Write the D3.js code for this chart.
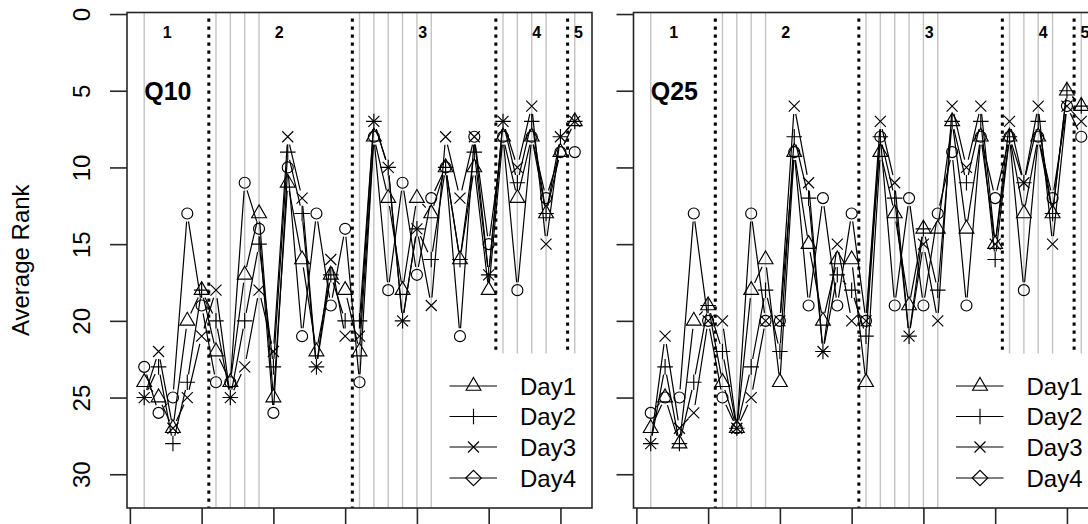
<!DOCTYPE html>
<html>
<head>
<meta charset="utf-8">
<script src="https://cdn.jsdelivr.net/npm/d3@7"></script>
<style>
  html, body { margin: 0; padding: 0; background: #ffffff; }
  svg { display: block; font-family: "Liberation Sans", Arial, Helvetica, sans-serif; }
</style>
</head>
<body>
<svg id="chart" width="1088" height="524"></svg>
<script>
// Question positions along the x axis
const positions = d3.range(1, 32);
const seriesNames = ["Day1", "Day2", "Day3", "Day4"];

// Average rank per question, Q10 panel
const q10Day1 = [24, 25, 27, 20, 18, 22, 24, 17, 13, 25, 11, 16, 22, 17, 18, 22, 8, 12, 18, 12, 13, 10, 16, 10, 18, 8, 12, 8, 13, 9, 7];
const q10Day2 = [25, 23, 28, 24, 18, 20, 25, 20, 15, 23, 9, 13, 23, 17, 20, 20, 7, 10, 20, 14, 16, 10, 16, 9, 17, 7, 11, 7, 13, 8, 7];
const q10Day3 = [25, 22, 27, 25, 21, 18, 25, 23, 18, 22, 8, 12, 23, 16, 21, 21, 7, 10, 20, 14, 19, 8, 12, 8, 17, 7, 10, 6, 15, 8, 7];
const q10Day4 = [23, 26, 25, 13, 19, 24, 24, 11, 14, 26, 10, 21, 13, 19, 14, 24, 8, 18, 11, 17, 12, 10, 21, 8, 15, 8, 18, 8, 12, 9, 9];

// Average rank per question, Q25 panel
const q25Day1 = [27, 25, 28, 20, 19, 24, 27, 18, 16, 24, 9, 15, 20, 16, 16, 24, 9, 13, 19, 14, 14, 7, 14, 8, 15, 8, 13, 8, 13, 5, 6];
const q25Day2 = [28, 23, 28, 24, 19, 22, 27, 23, 18, 22, 8, 12, 22, 17, 18, 21, 8, 12, 21, 14, 18, 7, 11, 7, 16, 8, 11, 7, 13, 5, 6];
const q25Day3 = [28, 21, 27, 26, 20, 20, 27, 25, 20, 20, 6, 11, 22, 15, 20, 20, 7, 11, 21, 15, 20, 6, 10, 6, 15, 7, 11, 6, 15, 6, 7];
const q25Day4 = [26, 25, 25, 13, 20, 25, 27, 13, 20, 20, 9, 19, 12, 19, 13, 20, 8, 19, 12, 19, 13, 9, 19, 8, 12, 8, 18, 8, 12, 6, 8];

// Section layout
const sectionLabels = ["1", "2", "3", "4", "5"];
const sectionLabelX = [2.6, 10.4, 20.4, 28.35, 31.25];
const sectionBreaks = [5.5, 15.5, 25.5, 30.5];
const guidePositions = [1, 6, 7, 8, 9, 16, 17, 18, 19, 20, 21, 26, 27, 28, 29, 31];

// Axis ticks
const yTicks = [0, 5, 10, 15, 20, 25, 30];
const xTicks = [0, 5, 10, 15, 20, 25, 30];

const panels = [
  { title: "Q10", left: 127, series: [q10Day1, q10Day2, q10Day3, q10Day4], yLabels: true },
  { title: "Q25", left: 633.5, series: [q25Day1, q25Day2, q25Day3, q25Day4], yLabels: false }
];

const W = 1088, H = 524;
const plotTop = 12.5, plotBottom = 508, plotWidth = 465;
const R = 5.5;            // symbol radius
const GAP = 8;            // gap left around symbols on the connecting lines
const ink = "#000000";
const frame = "#262626";

const svg = d3.select("#chart");
svg.append("rect").attr("width", W).attr("height", H).attr("fill", "#ffffff");

const y = d3.scaleLinear().domain([-0.1, 32.2]).range([plotTop, plotBottom]);

// Plot symbols: triangle, plus, cross, circle (and diamond for the key)
function drawSymbol(g, kind, cx, cy) {
  const s = g.append("g").attr("transform", `translate(${cx},${cy})`)
    .attr("fill", "none").attr("stroke", ink).attr("stroke-width", 1.15);
  if (kind === 0) {
    const r = 1.5551 * R, xc = 1.3468 * R, yc = 0.7776 * R;
    s.append("path").attr("d", `M0,${-r}L${xc},${yc}L${-xc},${yc}Z`);
  } else if (kind === 1) {
    const a = Math.SQRT2 * R;
    s.append("path").attr("d", `M${-a},0H${a}M0,${-a}V${a}`);
  } else if (kind === 2) {
    s.append("path").attr("d", `M${-R},${-R}L${R},${R}M${-R},${R}L${R},${-R}`);
  } else if (kind === 3) {
    s.append("circle").attr("r", R);
  } else {
    const a = Math.SQRT2 * R;
    s.append("path").attr("d", `M${-a},0L0,${-a}L${a},0L0,${a}Z`);
  }
}

panels.forEach(panel => {
  const x = d3.scaleLinear().domain([-0.2, 32.2]).range([panel.left, panel.left + plotWidth]);
  const g = svg.append("g");

  // light guide lines at selected questions
  g.selectAll("line.guide").data(guidePositions).join("line")
    .attr("class", "guide")
    .attr("x1", d => x(d)).attr("x2", d => x(d))
    .attr("y1", plotTop).attr("y2", plotBottom)
    .attr("stroke", "#c4c4c4").attr("stroke-width", 1.4);

  // dotted section separators
  g.selectAll("line.sep").data(sectionBreaks).join("line")
    .attr("class", "sep")
    .attr("x1", d => x(d)).attr("x2", d => x(d))
    .attr("y1", plotTop + 6).attr("y2", plotBottom)
    .attr("stroke", ink).attr("stroke-width", 3)
    .attr("stroke-dasharray", "3.2,4.8");

  // section numbers
  g.selectAll("text.sec").data(sectionLabels).join("text")
    .attr("class", "sec")
    .attr("x", (d, i) => x(sectionLabelX[i]))
    .attr("y", y(1.2))
    .attr("text-anchor", "middle")
    .attr("dy", "0.36em")
    .attr("font-size", 16).attr("font-weight", "bold")
    .attr("fill", ink)
    .text(d => d);

  // panel title
  g.append("text")
    .attr("x", x(1)).attr("y", y(5))
    .attr("dy", "0.36em")
    .attr("font-size", 25).attr("font-weight", "bold")
    .attr("fill", ink)
    .text(panel.title);

  // series: lines broken around each symbol, then the symbols
  panel.series.forEach((vals, si) => {
    const pts = positions.map((p, i) => [x(p), y(vals[i])]);
    let d = "";
    for (let i = 0; i < pts.length - 1; i++) {
      const [x0, y0] = pts[i], [x1, y1] = pts[i + 1];
      const len = Math.hypot(x1 - x0, y1 - y0);
      if (len <= 2 * GAP) continue;
      const ux = (x1 - x0) / len, uy = (y1 - y0) / len;
      d += `M${x0 + ux * GAP},${y0 + uy * GAP}L${x1 - ux * GAP},${y1 - uy * GAP}`;
    }
    g.append("path").attr("d", d).attr("fill", "none")
      .attr("stroke", ink).attr("stroke-width", 1.2);
    pts.forEach(([px, py]) => drawSymbol(g, si, px, py));
  });

  // key in the lower right corner
  const keyLeft = panel.left + 312;
  g.append("rect")
    .attr("x", keyLeft).attr("y", 353.5)
    .attr("width", panel.left + plotWidth - keyLeft).attr("height", plotBottom - 353.5)
    .attr("fill", "#ffffff");
  const keyRows = [386, 416.5, 447, 478];
  seriesNames.forEach((name, i) => {
    const ky = keyRows[i];
    g.append("line")
      .attr("x1", panel.left + 322.5).attr("x2", panel.left + 370)
      .attr("y1", ky).attr("y2", ky)
      .attr("stroke", ink).attr("stroke-width", 1.2);
    drawSymbol(g, i === 3 ? 4 : i, panel.left + 346.5, ky);
    g.append("text")
      .attr("x", panel.left + 393).attr("y", ky)
      .attr("dy", "0.36em")
      .attr("font-size", 24).attr("fill", ink)
      .text(name);
  });

  // frame
  g.append("rect")
    .attr("x", panel.left).attr("y", plotTop)
    .attr("width", plotWidth).attr("height", plotBottom - plotTop)
    .attr("fill", "none").attr("stroke", frame).attr("stroke-width", 1.6);

  // y axis
  const yAxis = d3.axisLeft(y).tickValues(yTicks).tickSize(17).tickSizeOuter(0)
    .tickFormat(panel.yLabels ? d3.format("d") : () => "");
  const ya = g.append("g").attr("transform", `translate(${panel.left},0)`).call(yAxis);
  ya.select(".domain").remove();
  ya.selectAll(".tick line").attr("stroke", frame).attr("stroke-width", 1.6);
  ya.selectAll(".tick text")
    .attr("x", null).attr("dy", null)
    .attr("transform", "translate(-37,0) rotate(-90)")
    .attr("text-anchor", "middle")
    .attr("font-size", 24).attr("font-family", "Liberation Sans, Arial, sans-serif")
    .attr("fill", ink);

  // x axis (labels fall below the visible area)
  const xAxis = d3.axisBottom(x).tickValues(xTicks).tickSize(17).tickSizeOuter(0).tickFormat(() => "");
  const xa = g.append("g").attr("transform", `translate(0,${plotBottom})`).call(xAxis);
  xa.select(".domain").remove();
  xa.selectAll(".tick line").attr("stroke", frame).attr("stroke-width", 1.6);
});

// y axis title
svg.append("text")
  .attr("transform", `translate(29,${(plotTop + plotBottom) / 2}) rotate(-90)`)
  .attr("text-anchor", "middle")
  .attr("font-size", 24).attr("fill", ink)
  .text("Average Rank");
</script>
</body>
</html>
